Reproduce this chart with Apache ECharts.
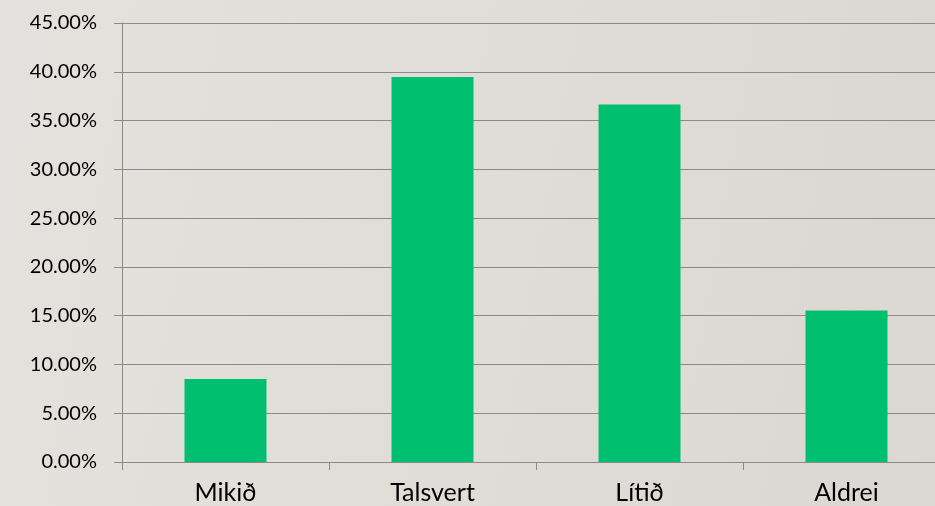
<!DOCTYPE html>
<html>
<head>
<meta charset="utf-8">
<script src="https://cdn.jsdelivr.net/npm/echarts@6/dist/echarts.min.js"></script>
<style>
html,body{margin:0;padding:0;overflow:hidden;width:935px;height:506px;background:linear-gradient(100deg,#e4e2de 0%,#e0ddd8 50%,#dbd8d3 100%);}
#c{width:952px;height:506px;}
</style>
</head>
<body>
<div id="c"></div>
<script>
var categories = ['Mikið', 'Talsvert', 'Lítið', 'Aldrei'];
var values = [0.0851, 0.3946, 0.3665, 0.1553];
var yMin = 0, yMax = 0.45, yStep = 0.05;

var chart = echarts.init(document.getElementById('c'), null, {renderer: 'canvas'});
var font = 'Lato';
chart.setOption({
  backgroundColor: 'transparent',
  animation: false,
  grid: {left: 122, right: 2, top: 23, bottom: 44, containLabel: false},
  xAxis: {
    type: 'category',
    data: categories,
    axisLine: {show: true, lineStyle: {color: '#8a8a8a', width: 1}},
    axisTick: {show: true, length: 8, alignWithLabel: false, lineStyle: {color: '#8a8a8a'}},
    axisLabel: {color: '#000', fontFamily: font, fontSize: 25, margin: 18}
  },
  yAxis: {
    type: 'value',
    min: yMin, max: yMax, interval: yStep,
    axisLine: {show: true, lineStyle: {color: '#8a8a8a', width: 1}},
    axisTick: {show: true, length: 8, lineStyle: {color: '#8a8a8a'}},
    splitLine: {show: true, lineStyle: {color: '#8a8a8a', width: 1}},
    axisLabel: {
      color: '#000', fontFamily: font, fontSize: 20, margin: 25,
      formatter: function (v) { return (v * 100).toFixed(2) + '%'; }
    }
  },
  series: [{
    type: 'bar',
    data: values,
    barWidth: 82,
    itemStyle: {color: '#00bf6f'}
  }]
});
</script>
</body>
</html>
